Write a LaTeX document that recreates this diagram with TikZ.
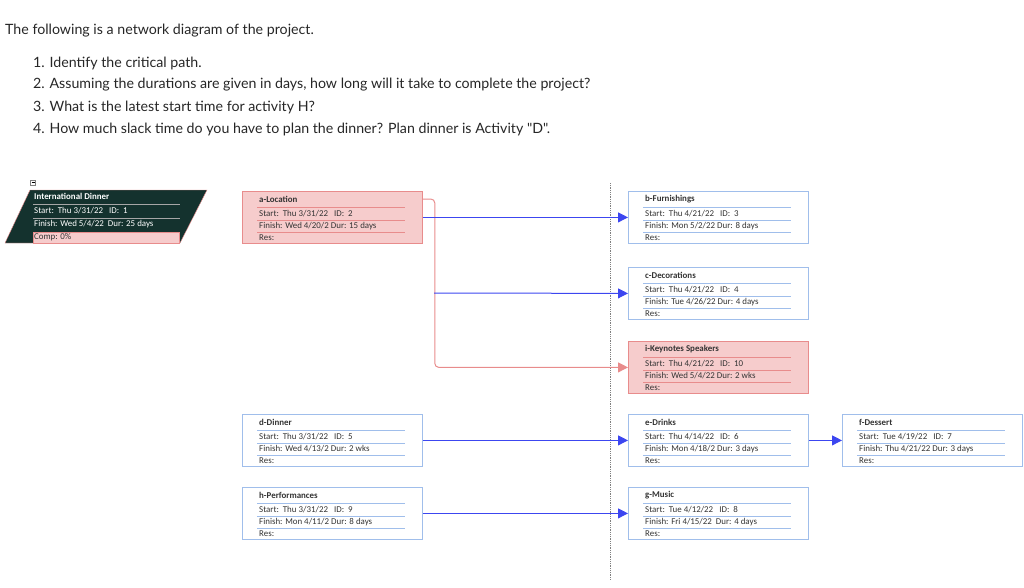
\documentclass[tikz,border=0pt]{standalone}
\usepackage{fontspec}
\setmainfont{Carlito}
\newfontfamily\headfont{Lato}
\usetikzlibrary{arrows.meta}
\definecolor{boxblue}{RGB}{160,190,235}
\definecolor{critfill}{RGB}{246,204,204}
\definecolor{critline}{RGB}{232,140,140}
\definecolor{darkteal}{RGB}{20,50,46}
\definecolor{linkblue}{RGB}{60,70,240}

\tikzset{
  taskbox/.style={draw=boxblue, line width=.8pt, fill=white, minimum width=180pt, minimum height=52pt, inner sep=0pt, anchor=north west},
  critbox/.style={taskbox, draw=critline, fill=critfill},
  rowtext/.style={anchor=west, font=\fontsize{8.9}{9}\selectfont, inner sep=0pt, text=black!80},
  link/.style={draw=linkblue, line width=1pt, -{Triangle[length=10pt,width=10pt]}},
  critlink/.style={draw=critline, line width=1pt, -{Triangle[length=10pt,width=10pt]}}
}

% one task box with its four rows
\newcommand{\task}[7]{%
  \node[#2] (#1) at (#3) {};
  \draw[#7, line width=.6pt] ([xshift=15pt,yshift=-16pt]#1.north west) -- ++(148pt,0)
    ([xshift=15pt,yshift=-29pt]#1.north west) -- ++(148pt,0)
    ([xshift=15pt,yshift=-41pt]#1.north west) -- ++(148pt,0);
  \node[rowtext, font=\fontsize{8.9}{9}\selectfont\bfseries] at ([xshift=17pt,yshift=-8pt]#1.north west) {#4};
  \node[rowtext] at ([xshift=17pt,yshift=-22.5pt]#1.north west) {#5};
  \node[rowtext] at ([xshift=17pt,yshift=-35pt]#1.north west) {#6};
  \node[rowtext] at ([xshift=17pt,yshift=-47pt]#1.north west) {Res:};
}

\begin{document}
\begin{tikzpicture}[x=1pt,y=-1pt]
\useasboundingbox (0,0) rectangle (1024,587);

%texte
\tikzset{qtext/.style={anchor=west, inner sep=0pt, text=black!85, font=\headfont\fontsize{14.2}{15}\selectfont}}
\node[qtext] (intro) at (5,31) {The following is a network diagram of the project.};
\node[qtext] (q1) at (33,63) {1. Identify the critical path.};
\node[qtext] (q2) at (33,85) {2. Assuming the durations are given in days, how long will it take to complete the project?};
\node[qtext] (q3) at (33,107) {3. What is the latest start time for activity H?};
\node[qtext] (q4) at (33,129) {4. How much slack time do you have to plan the dinner? Plan dinner is Activity "D".};

%yhteenveto
\draw[gray] (30.5,180) rectangle (35.5,185); \draw (31.5,182.5) -- (34.5,182.5);
\draw[critline, fill=darkteal] (30,190) -- (207,190) -- (180,243) -- (5,243) -- cycle;
\draw[critline, fill=critfill] (33,232) rectangle (179,243);
\draw[gray!70, line width=.5pt] (33,204) -- (180,204) (33,218) -- (180,218);
\node[rowtext, white, font=\fontsize{8.9}{9}\selectfont\bfseries] (proj) at (34,196.5) {International Dinner};
\node[rowtext, white] at (34,210.5) {Start:\ \ Thu 3/31/22\ \ \ ID:\ \ 1};
\node[rowtext, white] at (34,224.5) {Finish: Wed 5/4/22\ \ Dur: 25 days};
\node[rowtext] at (34,237.5) {Comp: 0\%};

%verkko
\draw[gray, densely dotted, line width=.8pt] (610,183) -- (610,580);

\task{a}{critbox}{242,191}{a-Location}{Start:\ \ Thu 3/31/22\ \ \ ID:\ \ 2}{Finish: Wed 4/20/2 Dur: 15 days}{critline}
\task{b}{taskbox}{628,191}{b-Furnishings}{Start:\ \ Thu 4/21/22\ \ \ ID:\ \ 3}{Finish: Mon 5/2/22\ Dur: 8 days}{boxblue}
\task{c}{taskbox}{628,267}{c-Decorations}{Start:\ \ Thu 4/21/22\ \ \ ID:\ \ 4}{Finish: Tue 4/26/22 Dur: 4 days}{boxblue}
\task{i}{critbox}{628,341}{i-Keynotes Speakers}{Start:\ \ Thu 4/21/22\ \ \ ID:\ \ 10}{Finish: Wed 5/4/22\ Dur: 2 wks}{critline}
\task{d}{taskbox}{242,414}{d-Dinner}{Start:\ \ Thu 3/31/22\ \ \ ID:\ \ 5}{Finish: Wed 4/13/2 Dur: 2 wks}{boxblue}
\task{e}{taskbox}{628,414}{e-Drinks}{Start:\ \ Thu 4/14/22\ \ \ ID:\ \ 6}{Finish: Mon 4/18/2 Dur: 3 days}{boxblue}
\task{f}{taskbox}{842,414}{f-Dessert}{Start:\ \ Tue 4/19/22\ \ \ ID:\ \ 7}{Finish: Thu 4/21/22 Dur: 3 days}{boxblue}
\task{h}{taskbox}{242,487}{h-Performances}{Start:\ \ Thu 3/31/22\ \ \ ID:\ \ 9}{Finish: Mon 4/11/2 Dur: 8 days}{boxblue}
\task{g}{taskbox}{628,487}{g-Music}{Start:\ \ Tue 4/12/22\ \ \ ID:\ \ 8}{Finish: Fri 4/15/22\ \ Dur: 4 days}{boxblue}

%nuolet
\coordinate (fork) at (434,293);
\draw[critlink, rounded corners=4pt] ([yshift=-8pt]a.north east) -- ++(12,0) |- (i.west);
\draw[link] (a.east |- b.west) -- (b.west);
\draw[link] (fork) -- (c.west);
\draw[link] (d.east) -- (e.west);
\draw[link] (e.east) -- (f.west);
\draw[link] (h.east) -- (g.west);
\end{tikzpicture}
\end{document}
